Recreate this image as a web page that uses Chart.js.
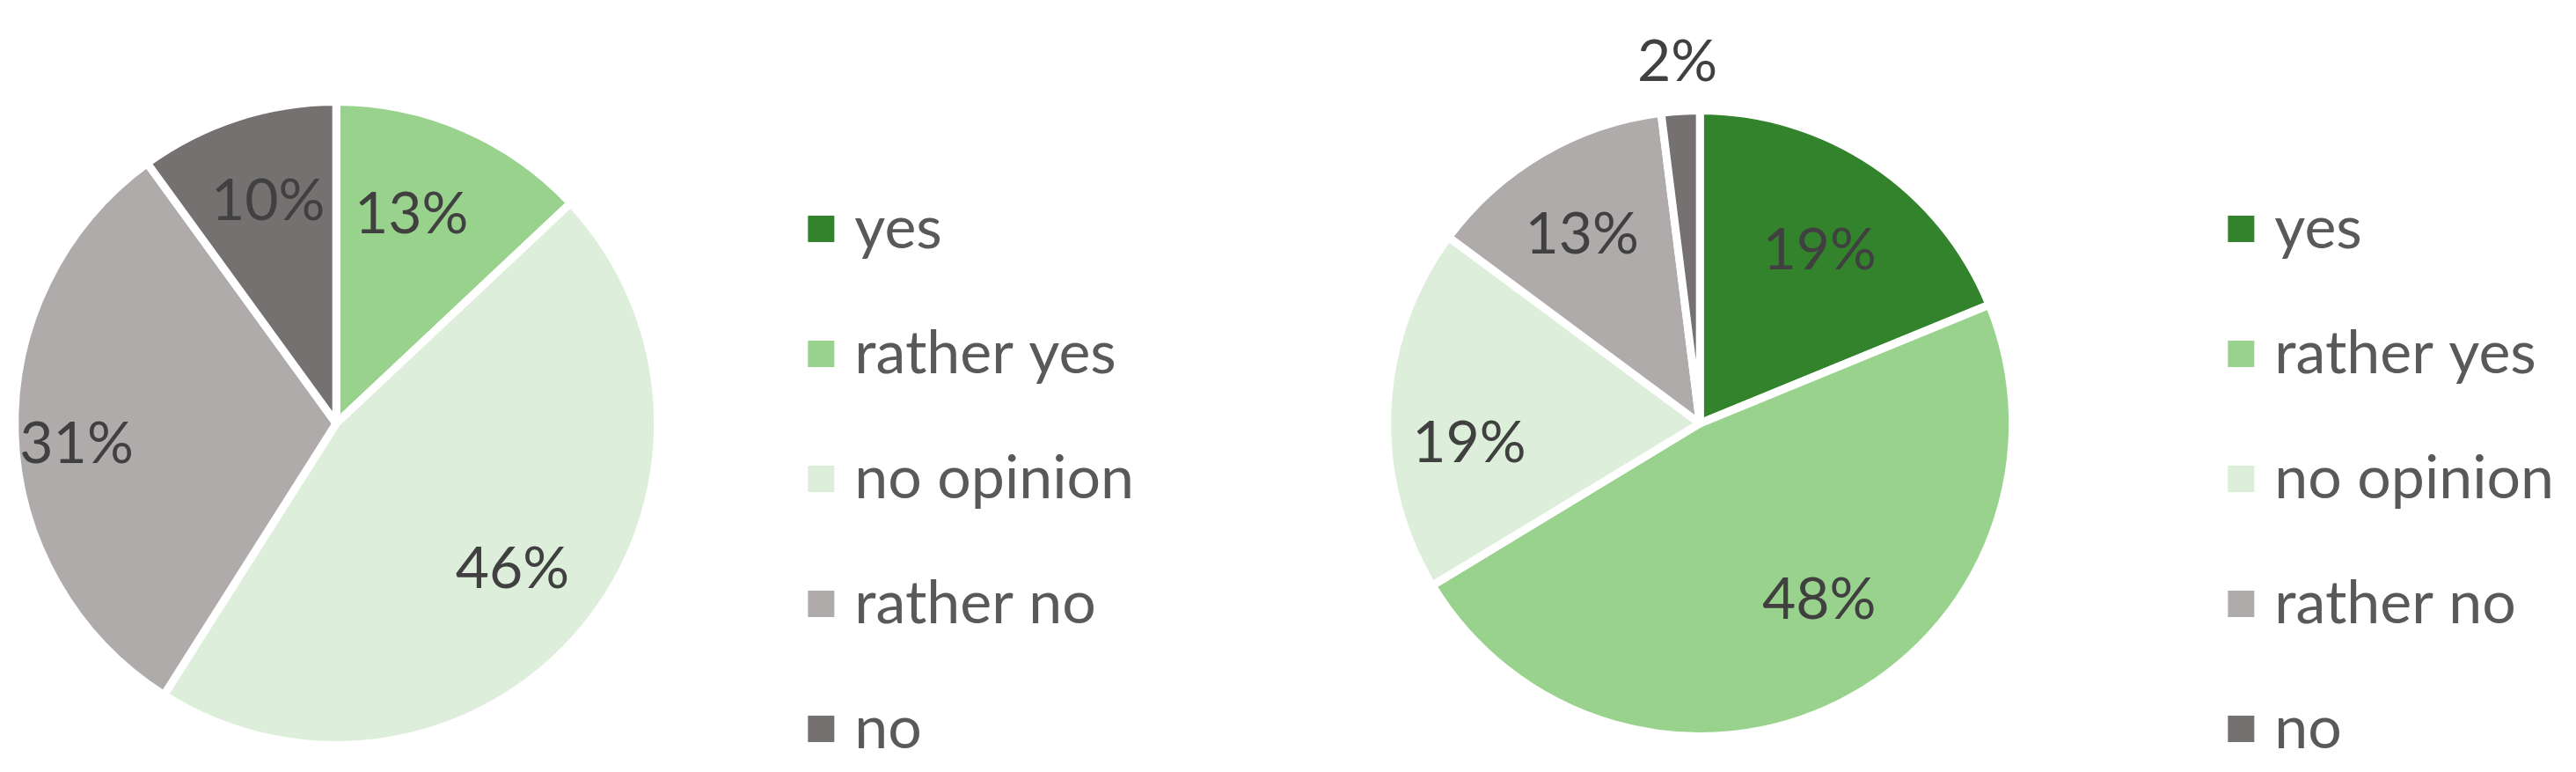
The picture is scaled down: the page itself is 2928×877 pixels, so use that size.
<!DOCTYPE html>
<html>
<head>
<meta charset="utf-8">
<script src="https://cdn.jsdelivr.net/npm/chart.js@4.4.0/dist/chart.umd.min.js"></script>
<style>
  html, body { margin: 0; padding: 0; background: #ffffff; width: 2928px; height: 877px; overflow: hidden; }
  .box { position: absolute; top: 0; }
  canvas { display: block; }
</style>
</head>
<body>
<div class="box" id="boxA" style="left:-91px"><canvas id="chartA" width="1446" height="962"></canvas></div>
<div class="box" id="boxB" style="left:1395px"><canvas id="chartB" width="1533" height="962"></canvas></div>
<script>
// ---- data ----
const categories = ['yes', 'rather yes', 'no opinion', 'rather no', 'no'];
const valuesLeft = [0, 13, 46, 31, 10];
const valuesRight = [19, 48, 19, 13, 2];
const sliceColors = ['#33832C', '#98D28C', '#DDEFDA', '#AFABAB', '#767171'];

const FONT = 'Lato';
const LEGEND_SIZE = 68;
const LABEL_SIZE = 66;
const BORDER = 9;
const CANVAS_H = 962;

// label placement style (fraction of radius, angle tweak in degrees) – "best fit" look
const labelStyleLeft = { dist: [0.72, 0.70, 0.72, 0.82, 0.73], turn: [0, -3.6, 0, -2.7, 0.9] };
const labelStyleRight = { dist: [0.68, 0.69, 0.75, 0.72, 1.17], turn: [0.9, -7.3, -7.7, -1.7, 0] };

const pieLabels = {
  id: 'pieLabels',
  afterDatasetsDraw(chart, args, opts) {
    const ctx = chart.ctx;
    const meta = chart.getDatasetMeta(0);
    const data = chart.data.datasets[0].data;
    const st = opts.style;
    ctx.save();
    ctx.font = LABEL_SIZE + 'px ' + FONT;
    ctx.fillStyle = '#404040';
    ctx.textAlign = 'center';
    ctx.textBaseline = 'middle';
    meta.data.forEach((arc, i) => {
      const v = data[i];
      if (!v) return;
      const p = arc.getProps(['x', 'y', 'startAngle', 'endAngle', 'outerRadius'], true);
      const mid = (p.startAngle + p.endAngle) / 2 + st.turn[i] * Math.PI / 180;
      const rVis = p.outerRadius - BORDER / 2;
      const f = st.dist[i];
      ctx.fillText(v + '%', p.x + Math.cos(mid) * rVis * f, p.y + Math.sin(mid) * rVis * f);
    });
    ctx.restore();
  }
};

function config(values, radius, labelStyle) {
  return {
    type: 'pie',
    data: {
      labels: categories,
      datasets: [{
        data: values,
        backgroundColor: sliceColors,
        borderColor: '#ffffff',
        borderWidth: BORDER
      }]
    },
    options: {
      responsive: false,
      animation: false,
      radius: radius,
      layout: { padding: { left: 0, right: 20, top: 0, bottom: 0 } },
      plugins: {
        tooltip: { enabled: false },
        pieLabels: { style: labelStyle },
        legend: {
          position: 'right',
          align: 'center',
          title: { display: true, text: ' ', font: { size: 10 }, padding: { top: 114, bottom: 0 } },
          labels: {
            boxWidth: 8,
            boxHeight: 8,
            padding: 142 - LEGEND_SIZE,
            color: '#595959',
            font: { family: FONT, size: LEGEND_SIZE },
            generateLabels(chart) {
              const items = Chart.overrides.pie.plugins.legend.labels.generateLabels(chart);
              return items.map(it => Object.assign(it, {
                strokeStyle: it.fillStyle,
                lineWidth: 22,
                lineJoin: 'miter',
                hidden: false
              }));
            }
          }
        }
      }
    },
    plugins: [pieLabels]
  };
}

// legendLeft: where the legend box should start inside the canvas (pie centre = legendLeft / 2)
function makePie(id, values, radius, legendLeft, labelStyle) {
  const canvas = document.getElementById(id);
  let chart = new Chart(canvas, config(values, radius, labelStyle));
  const w = Math.ceil(legendLeft + chart.legend.width + 20);
  chart.destroy();
  canvas.width = w;
  canvas.height = CANVAS_H;
  canvas.style.width = w + 'px';
  canvas.style.height = CANVAS_H + 'px';
  return new Chart(canvas, config(values, radius, labelStyle));
}

makePie('chartA', valuesLeft, 365.5, 946, labelStyleLeft);
makePie('chartB', valuesRight, 355.5, 1074, labelStyleRight);
</script>
</body>
</html>
